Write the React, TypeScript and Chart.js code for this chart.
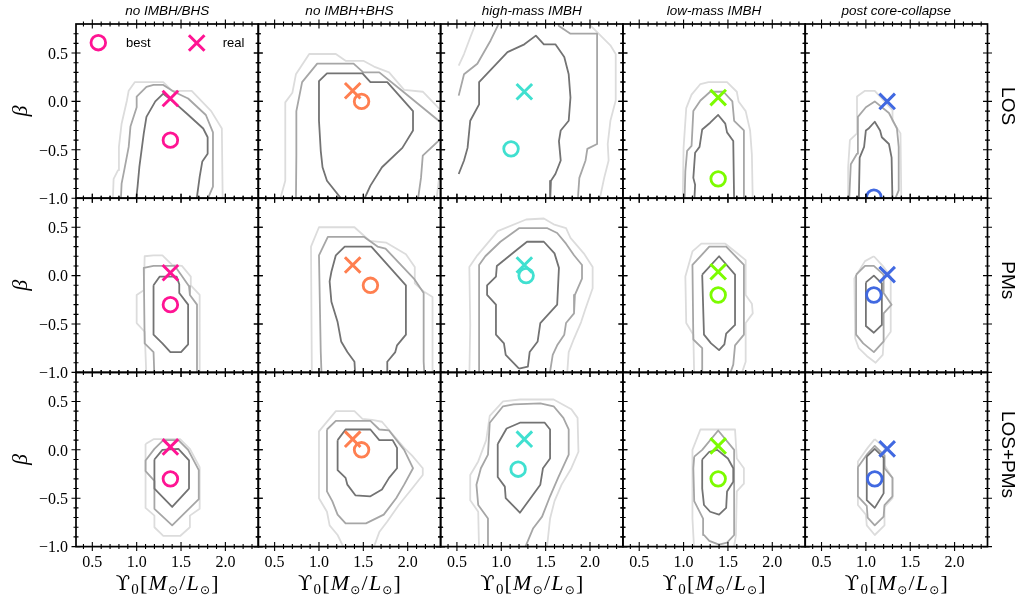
import React, { useEffect, useRef } from "react";
import { Chart, registerables } from "chart.js";

Chart.register(...registerables);

type Pt = [number, number];

// ---------- labels, colours, ticks ----------
const modelTitles = ["no IMBH/BHS", "no IMBH+BHS", "high-mass IMBH", "low-mass IMBH", "post core-collapse"];
const dataTitles = ["LOS", "PMs", "LOS+PMs"];
const modelColors = ["#ff1493", "#ff7f50", "#40e0d0", "#7cfc00", "#4169e1"];
const contourColors = ["#737373", "#a6a6a6", "#dcdcdc"]; // inner, middle, outer
const xMajor = [0.5, 1.0, 1.5, 2.0];
const xMajorLabels = ["0.5", "1.0", "1.5", "2.0"];
const xMinor = [0.4, 0.6, 0.7, 0.8, 0.9, 1.1, 1.2, 1.3, 1.4, 1.6, 1.7, 1.8, 1.9, 2.1, 2.2, 2.3];
const yMajor = [-1.0, -0.5, 0.0, 0.5];
const yMajorLabels = ["\u22121.0", "\u22120.5", "0.0", "0.5"];
const yMinor = [-0.9, -0.8, -0.7, -0.6, -0.4, -0.3, -0.2, -0.1, 0.1, 0.2, 0.3, 0.4, 0.6, 0.7];
const xLimits = [0.316, 2.371];
const yLimits = [-1.0, 0.8];

// ---------- best-fit / real values (Upsilon0, beta) ----------
const bestLOS: Pt[] = [[1.38, -0.4], [1.48, 0.0], [1.11, -0.49], [1.39, -0.8], [1.09, -0.99]];
const realLOS: Pt[] = [[1.38, 0.03], [1.38, 0.11], [1.26, 0.1], [1.39, 0.04], [1.24, 0.0]];
const bestPMs: Pt[] = [[1.38, -0.3], [1.58, -0.1], [1.28, 0.0], [1.39, -0.2], [1.09, -0.2]];
const realPMs: Pt[] = [[1.38, 0.03], [1.38, 0.11], [1.26, 0.11], [1.39, 0.04], [1.24, 0.01]];
const bestBoth: Pt[] = [[1.38, -0.3], [1.48, 0.0], [1.19, -0.2], [1.39, -0.3], [1.1, -0.3]];
const realBoth: Pt[] = [[1.38, 0.03], [1.38, 0.11], [1.26, 0.11], [1.39, 0.04], [1.24, 0.01]];

// ---------- contours: LOS ----------
const los0Light: Pt[] = [[0.73,-1.05],[0.74,-0.8],[0.79,-0.71],[0.8,-0.47],[0.83,-0.23],[0.89,0.01],[0.91,0.11],[0.98,0.2],[1.3,0.2],[1.4,0.11],[1.62,0.11],[1.84,-0.1],[1.96,-0.28],[1.97,-1.05]];
const los0Mid: Pt[] = [[0.82,-1.05],[0.83,-0.85],[0.86,-0.71],[0.91,-0.47],[0.93,-0.26],[1.0,-0.06],[1.0,0.05],[1.11,0.15],[1.19,0.17],[1.3,0.17],[1.42,0.1],[1.58,0.03],[1.78,-0.14],[1.86,-0.32],[1.86,-0.88],[1.78,-1.05]];
const los0Dark: Pt[] = [[0.99,-1.05],[1.01,-0.88],[1.03,-0.68],[1.06,-0.47],[1.08,-0.33],[1.11,-0.16],[1.21,0.0],[1.3,0.08],[1.41,0.0],[1.57,-0.13],[1.75,-0.28],[1.8,-0.37],[1.8,-0.54],[1.74,-0.62],[1.71,-0.78],[1.67,-1.05]];

const los1Light: Pt[] = [[0.55,-1.05],[0.62,-0.82],[0.62,-0.01],[0.7,0.09],[0.74,0.28],[0.89,0.49],[1.19,0.49],[1.3,0.42],[1.5,0.42],[1.62,0.36],[1.79,0.3],[1.96,0.12],[2.17,0.1],[2.35,-0.07],[2.6,-0.3],[2.6,-0.8],[2.35,-0.82],[2.32,-1.05]];
const los1Mid: Pt[] = [[0.74,-1.05],[0.745,-0.55],[0.745,-0.1],[0.81,0.2],[0.98,0.39],[1.39,0.39],[1.5,0.3],[1.68,0.3],[1.95,0.1],[2.35,-0.2],[2.6,-0.3],[2.39,-0.37],[2.17,-0.56],[2.15,-0.79],[2.11,-1.05]];
const los1Dark: Pt[] = [[1.29,-1.05],[1.09,-0.82],[1.04,-0.68],[1.02,-0.51],[1.0,-0.2],[1.0,0.21],[1.09,0.29],[1.49,0.29],[1.58,0.2],[1.77,0.2],[2.06,-0.1],[2.06,-0.3],[1.94,-0.48],[1.71,-0.68],[1.58,-0.87],[1.49,-1.05]];

const los2Light: Pt[] = [[0.52,0.37],[0.58,0.49],[0.65,0.66],[0.71,0.8],[0.75,0.95],[1.95,0.95],[2.01,0.78],[2.23,0.58],[2.29,0.49],[2.29,0.01],[2.23,-0.2],[2.2,-0.44],[2.21,-0.61],[2.16,-0.79],[2.1,-1.05]];
const los2Mid: Pt[] = [[0.52,0.06],[0.58,0.28],[0.73,0.39],[0.88,0.63],[0.96,0.78],[1.0,0.95],[1.6,0.95],[1.65,0.78],[1.78,0.7],[2.08,0.7],[2.08,-0.44],[1.97,-0.49],[1.95,-0.61],[1.88,-0.79],[1.86,-1.05]];
const los2Dark: Pt[] = [[0.52,-0.75],[0.58,-0.61],[0.62,-0.48],[0.65,-0.2],[0.75,-0.03],[0.75,0.2],[1.07,0.51],[1.26,0.59],[1.39,0.68],[1.48,0.59],[1.61,0.59],[1.71,0.46],[1.76,0.28],[1.78,0.04],[1.76,-0.2],[1.67,-0.3],[1.65,-0.41],[1.67,-0.61],[1.61,-0.75],[1.56,-0.82],[1.55,-1.05]];

const los3Light: Pt[] = [[0.99,-1.05],[1.0,-0.48],[1.03,-0.07],[1.09,0.07],[1.19,0.18],[1.28,0.2],[1.49,0.2],[1.6,0.1],[1.62,0.0],[1.7,-0.1],[1.75,-0.3],[1.77,-0.55],[1.78,-1.05]];
const los3Mid: Pt[] = [[1.01,-1.05],[1.02,-0.72],[1.04,-0.51],[1.09,-0.46],[1.11,-0.1],[1.19,0.01],[1.3,0.1],[1.45,0.1],[1.55,0.0],[1.57,-0.2],[1.68,-0.3],[1.68,-1.05]];
const los3Dark: Pt[] = [[1.12,-1.05],[1.13,-0.86],[1.11,-0.79],[1.13,-0.53],[1.18,-0.47],[1.21,-0.29],[1.3,-0.22],[1.39,-0.14],[1.47,-0.23],[1.49,-0.32],[1.56,-0.41],[1.57,-1.05]];

const los4Light: Pt[] = [[0.8,-1.05],[0.8,-0.68],[0.82,-0.4],[0.9,-0.33],[0.9,0.05],[0.99,0.11],[1.1,0.11],[1.16,0.05],[1.3,-0.09],[1.3,-0.2],[1.39,-0.33],[1.4,-1.05]];
const los4Mid: Pt[] = [[0.81,-1.05],[0.83,-0.65],[0.9,-0.54],[0.91,-0.16],[1.0,-0.06],[1.1,0.0],[1.26,-0.12],[1.35,-0.28],[1.37,-0.47],[1.37,-0.92],[1.31,-1.05]];
const los4Dark: Pt[] = [[0.92,-1.05],[0.93,-0.58],[0.98,-0.47],[1.0,-0.3],[1.03,-0.28],[1.1,-0.21],[1.16,-0.3],[1.18,-0.37],[1.26,-0.44],[1.29,-0.58],[1.3,-1.05]];

// ---------- contours: PMs ----------
const pm0Light: Pt[] = [[1.11,-1.05],[1.09,-0.58],[1.0,-0.49],[1.0,-0.2],[1.08,-0.15],[1.09,0.2],[1.19,0.21],[1.29,0.21],[1.4,0.11],[1.51,0.1],[1.61,-0.01],[1.61,-0.1],[1.71,-0.2],[1.71,-1.05]];
const pm0Mid: Pt[] = [[1.2,-1.05],[1.19,-0.79],[1.09,-0.7],[1.08,0.08],[1.19,0.1],[1.43,0.1],[1.5,0.01],[1.59,-0.11],[1.6,-0.2],[1.68,-0.3],[1.68,-1.05]];
const pm0Dark: Pt[] = [[1.19,-0.1],[1.26,-0.01],[1.45,-0.01],[1.48,-0.09],[1.48,-0.18],[1.58,-0.3],[1.58,-0.71],[1.5,-0.79],[1.38,-0.79],[1.29,-0.7],[1.19,-0.61],[1.19,-0.1]];

const pm1Light: Pt[] = [[0.92,-1.05],[0.91,0.3],[1.0,0.5],[1.4,0.5],[1.57,0.36],[1.76,0.34],[1.98,0.22],[2.08,0.09],[2.08,-0.08],[2.19,-0.17],[2.28,-0.22],[2.28,-1.05]];
const pm1Mid: Pt[] = [[1.03,-1.05],[1.02,-0.79],[1.0,0.21],[1.1,0.4],[1.51,0.4],[1.66,0.3],[1.75,0.28],[2.07,-0.03],[2.18,-0.18],[2.18,-0.89],[2.19,-1.05]];
const pm1Dark: Pt[] = [[1.41,-1.05],[1.4,-0.89],[1.32,-0.79],[1.25,-0.68],[1.21,-0.48],[1.14,-0.27],[1.12,-0.06],[1.14,0.04],[1.19,0.21],[1.29,0.3],[1.59,0.3],[1.98,-0.1],[1.98,-0.61],[1.88,-0.72],[1.86,-0.79],[1.77,-0.89],[1.77,-1.05]];

const pm2Light: Pt[] = [[0.64,-1.05],[0.65,-0.51],[0.64,0.09],[0.73,0.21],[0.96,0.46],[1.28,0.58],[1.48,0.59],[1.59,0.53],[1.73,0.49],[1.78,0.39],[1.93,0.23],[2.03,0.09],[2.03,-0.13],[1.95,-0.34],[1.9,-0.48],[1.82,-0.65],[1.76,-0.79],[1.74,-1.05]];
const pm2Mid: Pt[] = [[0.75,-1.05],[0.75,0.11],[0.82,0.2],[0.99,0.35],[1.2,0.49],[1.52,0.49],[1.63,0.44],[1.73,0.33],[1.82,0.21],[1.91,0.11],[1.91,-0.03],[1.83,-0.2],[1.82,-0.39],[1.73,-0.49],[1.71,-0.61],[1.63,-0.72],[1.58,-0.82],[1.54,-1.05]];
const pm2Dark: Pt[] = [[1.2,-0.96],[1.05,-0.82],[1.03,-0.7],[0.94,-0.61],[0.94,-0.3],[0.84,-0.2],[0.84,-0.1],[0.94,-0.01],[0.95,0.1],[1.18,0.27],[1.29,0.35],[1.48,0.35],[1.6,0.23],[1.65,0.08],[1.63,-0.3],[1.44,-0.49],[1.41,-0.68],[1.32,-0.79],[1.3,-0.94],[1.2,-0.96]];

const pm3Light: Pt[] = [[1.12,-1.05],[1.11,-0.61],[1.03,-0.49],[1.02,-0.01],[1.1,0.25],[1.2,0.33],[1.47,0.33],[1.58,0.25],[1.7,0.16],[1.7,-0.2],[1.77,-0.29],[1.78,-0.39],[1.7,-0.49],[1.7,-0.89],[1.64,-1.05]];
const pm3Mid: Pt[] = [[1.21,-1.05],[1.21,-0.75],[1.11,-0.66],[1.1,0.11],[1.2,0.21],[1.29,0.3],[1.48,0.3],[1.68,0.11],[1.68,-0.61],[1.58,-0.72],[1.56,-0.92],[1.51,-1.05]];
const pm3Dark: Pt[] = [[1.21,0.01],[1.4,0.2],[1.58,0.01],[1.58,-0.51],[1.48,-0.6],[1.46,-0.71],[1.4,-0.77],[1.31,-0.7],[1.23,-0.61],[1.21,0.01]];

const pm4Light: Pt[] = [[1.09,0.2],[1.2,0.09],[1.28,-0.01],[1.28,-0.58],[1.2,-0.68],[1.19,-0.82],[1.11,-0.9],[1.01,-0.83],[0.92,-0.75],[0.88,-0.65],[0.87,-0.03],[0.99,0.15],[1.09,0.2]];
const pm4Mid: Pt[] = [[0.89,0.01],[0.99,0.1],[1.09,0.1],[1.2,0.01],[1.2,-0.18],[1.29,-0.3],[1.2,-0.39],[1.2,-0.68],[1.09,-0.79],[0.97,-0.7],[0.89,-0.61],[0.89,0.01]];
const pm4Dark: Pt[] = [[1.0,-0.07],[1.09,0.0],[1.18,-0.08],[1.18,-0.51],[1.09,-0.59],[1.0,-0.52],[1.0,-0.07]];

// ---------- contours: LOS+PMs ----------
const lp0Light: Pt[] = [[1.1,0.06],[1.19,0.11],[1.49,0.11],[1.6,0.01],[1.71,-0.18],[1.71,-0.61],[1.6,-0.68],[1.6,-0.8],[1.49,-0.89],[1.3,-0.89],[1.2,-0.8],[1.2,-0.68],[1.1,-0.6],[1.1,0.06]];
const lp0Mid: Pt[] = [[1.1,-0.11],[1.1,-0.22],[1.2,-0.32],[1.2,-0.61],[1.4,-0.78],[1.7,-0.51],[1.7,-0.21],[1.58,0.0],[1.47,0.1],[1.3,0.1],[1.2,0.01],[1.1,-0.11]];
const lp0Dark: Pt[] = [[1.2,-0.1],[1.29,0.0],[1.47,0.01],[1.59,-0.11],[1.59,-0.4],[1.4,-0.59],[1.2,-0.4],[1.2,-0.1]];

const lp1Light: Pt[] = [[1.3,-1.05],[1.21,-0.88],[1.12,-0.78],[1.09,-0.64],[1.0,-0.5],[1.0,0.19],[1.19,0.4],[1.4,0.4],[1.49,0.32],[1.6,0.31],[1.71,0.29],[1.96,0.02],[2.05,-0.06],[2.17,-0.19],[2.17,-0.26],[2.05,-0.4],[1.9,-0.57],[1.77,-0.74],[1.68,-0.85],[1.6,-1.05]];
const lp1Mid: Pt[] = [[1.09,0.21],[1.19,0.3],[1.58,0.3],[1.68,0.21],[1.79,0.2],[1.96,0.0],[2.06,-0.19],[1.96,-0.36],[1.87,-0.5],[1.73,-0.67],[1.53,-0.76],[1.3,-0.76],[1.21,-0.67],[1.15,-0.53],[1.09,-0.43],[1.09,0.21]];
const lp1Dark: Pt[] = [[1.21,0.1],[1.3,0.21],[1.58,0.21],[1.68,0.1],[1.83,0.1],[1.88,0.02],[1.88,-0.19],[1.79,-0.29],[1.71,-0.41],[1.58,-0.48],[1.41,-0.47],[1.32,-0.36],[1.3,-0.29],[1.21,-0.21],[1.21,0.1]];

const lp2Light: Pt[] = [[0.75,-1.05],[0.74,-0.64],[0.65,-0.52],[0.65,-0.26],[0.74,-0.12],[0.83,0.1],[0.87,0.35],[1.02,0.5],[1.21,0.52],[1.59,0.52],[1.79,0.42],[1.86,0.33],[1.87,-0.02],[1.79,-0.19],[1.68,-0.36],[1.6,-0.53],[1.55,-0.71],[1.53,-0.88],[1.51,-1.05]];
const lp2Mid: Pt[] = [[0.85,-1.05],[0.85,-0.71],[0.74,-0.57],[0.72,-0.36],[0.77,-0.19],[0.85,-0.05],[0.87,0.28],[1.02,0.45],[1.14,0.47],[1.44,0.48],[1.59,0.45],[1.7,0.33],[1.76,0.21],[1.76,-0.05],[1.64,-0.29],[1.55,-0.48],[1.46,-0.69],[1.36,-0.81],[1.25,-1.05]];
const lp2Dark: Pt[] = [[0.96,0.06],[1.06,0.22],[1.21,0.28],[1.49,0.28],[1.55,0.21],[1.55,-0.09],[1.47,-0.19],[1.44,-0.36],[1.21,-0.65],[1.05,-0.5],[1.04,-0.38],[0.96,-0.28],[0.96,0.06]];

const lp3Light: Pt[] = [[1.12,-1.05],[1.1,-0.71],[1.1,0.0],[1.19,0.21],[1.58,0.21],[1.6,-0.09],[1.68,-0.19],[1.68,-0.35],[1.6,-0.43],[1.59,-0.88],[1.56,-1.05]];
const lp3Mid: Pt[] = [[1.12,-0.07],[1.21,0.0],[1.39,0.2],[1.57,0.0],[1.57,-0.88],[1.49,-0.96],[1.4,-0.98],[1.29,-0.94],[1.23,-0.88],[1.22,-0.71],[1.12,-0.53],[1.11,-0.19],[1.12,-0.07]];
const lp3Dark: Pt[] = [[1.21,-0.1],[1.29,-0.02],[1.38,0.0],[1.5,-0.09],[1.56,-0.19],[1.56,-0.33],[1.49,-0.43],[1.48,-0.6],[1.4,-0.67],[1.3,-0.64],[1.23,-0.57],[1.21,-0.4],[1.21,-0.1]];

const lp4Light: Pt[] = [[1.1,0.11],[1.21,0.02],[1.21,-0.16],[1.3,-0.29],[1.3,-0.5],[1.21,-0.59],[1.21,-0.78],[1.1,-0.88],[1.01,-0.78],[1.0,-0.67],[0.91,-0.57],[0.91,-0.12],[1.02,0.02],[1.1,0.11]];
const lp4Mid: Pt[] = [[0.91,-0.18],[1.01,-0.05],[1.1,0.04],[1.21,-0.06],[1.21,-0.19],[1.3,-0.29],[1.3,-0.48],[1.21,-0.57],[1.2,-0.69],[1.1,-0.78],[1.02,-0.7],[1.01,-0.58],[0.91,-0.48],[0.91,-0.18]];
const lp4Dark: Pt[] = [[1.01,-0.07],[1.1,0.01],[1.2,-0.08],[1.2,-0.45],[1.1,-0.6],[1.01,-0.52],[1.01,-0.07]];

// ---------- tables built from the arrays above ----------
const contourTable: Pt[][][][] = [
  [[los0Dark, los0Mid, los0Light], [los1Dark, los1Mid, los1Light], [los2Dark, los2Mid, los2Light], [los3Dark, los3Mid, los3Light], [los4Dark, los4Mid, los4Light]],
  [[pm0Dark, pm0Mid, pm0Light], [pm1Dark, pm1Mid, pm1Light], [pm2Dark, pm2Mid, pm2Light], [pm3Dark, pm3Mid, pm3Light], [pm4Dark, pm4Mid, pm4Light]],
  [[lp0Dark, lp0Mid, lp0Light], [lp1Dark, lp1Mid, lp1Light], [lp2Dark, lp2Mid, lp2Light], [lp3Dark, lp3Mid, lp3Light], [lp4Dark, lp4Mid, lp4Light]],
];
const bestTable: Pt[][] = [bestLOS, bestPMs, bestBoth];
const realTable: Pt[][] = [realLOS, realPMs, realBoth];

// ---------- layout ----------
const PAGE_W = 1020;
const PAGE_H = 602;
const GRID_LEFT = 76;
const GRID_TOP = 24;
const PANEL_W = 182.3;
const PANEL_H = 174.2;

const SERIF = '"Liberation Serif", "DejaVu Serif", serif';
const SANS = '"Liberation Sans", "DejaVu Sans", sans-serif';

function drawCircleMarker(ctx: CanvasRenderingContext2D, x: number, y: number, color: string) {
  ctx.beginPath();
  ctx.arc(x, y, 7.3, 0, Math.PI * 2);
  ctx.strokeStyle = color;
  ctx.lineWidth = 2.8;
  ctx.stroke();
}

function drawCrossMarker(ctx: CanvasRenderingContext2D, x: number, y: number, color: string) {
  const h = 7.8;
  ctx.beginPath();
  ctx.moveTo(x - h, y - h);
  ctx.lineTo(x + h, y + h);
  ctx.moveTo(x + h, y - h);
  ctx.lineTo(x - h, y + h);
  ctx.strokeStyle = color;
  ctx.lineWidth = 3;
  ctx.stroke();
}

function drawXLabel(ctx: CanvasRenderingContext2D, cx: number, baseline: number) {
  const parts = [
    { t: "\u03D2", f: `21px "DejaVu Serif", serif`, dy: 0 },
    { t: "0", f: `15px ${SERIF}`, dy: 4 },
    { t: "[", f: `22px ${SERIF}`, dy: 0 },
    { t: "M", f: `italic 22px ${SERIF}`, dy: 0 },
    { t: "\u2299", f: `12px "DejaVu Sans", sans-serif`, dy: 4 },
    { t: "/", f: `22px ${SERIF}`, dy: 0 },
    { t: "L", f: `italic 22px ${SERIF}`, dy: 0 },
    { t: "\u2299", f: `12px "DejaVu Sans", sans-serif`, dy: 4 },
    { t: "]", f: `22px ${SERIF}`, dy: 0 },
  ];
  const gap = 1.2;
  let total = 0;
  const widths = parts.map((p) => {
    ctx.font = p.f;
    const w = ctx.measureText(p.t).width;
    total += w;
    return w;
  });
  total += gap * (parts.length - 1);
  let x = cx - total / 2;
  ctx.textAlign = "left";
  ctx.textBaseline = "alphabetic";
  ctx.fillStyle = "#000";
  parts.forEach((p, i) => {
    ctx.font = p.f;
    ctx.fillText(p.t, x, baseline + p.dy);
    x += widths[i] + gap;
  });
}

function makeDecor(row: number, col: number) {
  return {
    id: "panelDecor",
    afterDraw(chart: any) {
      const ctx: CanvasRenderingContext2D = chart.ctx;
      const a = chart.chartArea;
      const xs = chart.scales.x;
      const ys = chart.scales.y;
      ctx.save();
      // frame
      ctx.strokeStyle = "#000";
      ctx.lineWidth = 1.7;
      ctx.strokeRect(a.left, a.top, a.right - a.left, a.bottom - a.top);
      // ticks (in and out, all four sides)
      ctx.lineWidth = 1.1;
      const xTicks = (vals: number[], len: number) => {
        vals.forEach((v) => {
          const px = xs.getPixelForValue(v);
          ctx.beginPath();
          ctx.moveTo(px, a.bottom - len);
          ctx.lineTo(px, a.bottom + len);
          ctx.moveTo(px, a.top - len);
          ctx.lineTo(px, a.top + len);
          ctx.stroke();
        });
      };
      const yTicks = (vals: number[], len: number) => {
        vals.forEach((v) => {
          const py = ys.getPixelForValue(v);
          ctx.beginPath();
          ctx.moveTo(a.left - len, py);
          ctx.lineTo(a.left + len, py);
          ctx.moveTo(a.right - len, py);
          ctx.lineTo(a.right + len, py);
          ctx.stroke();
        });
      };
      xTicks(xMajor, 4.5);
      xTicks(xMinor, 2.5);
      yTicks(yMajor, 4.5);
      yTicks(yMinor, 2.5);

      ctx.fillStyle = "#000";
      // y tick labels + beta label
      if (col === 0) {
        ctx.font = `16px ${SERIF}`;
        ctx.textAlign = "right";
        ctx.textBaseline = "middle";
        yMajor.forEach((v, i) => {
          ctx.fillText(yMajorLabels[i], a.left - 8, ys.getPixelForValue(v) + 1.5);
        });
        ctx.save();
        ctx.translate(a.left - 55, (a.top + a.bottom) / 2);
        ctx.rotate(-Math.PI / 2);
        ctx.font = `italic 22px ${SERIF}`;
        ctx.textAlign = "center";
        ctx.textBaseline = "middle";
        ctx.fillText("\u03B2", 0, 0);
        ctx.restore();
      }
      // x tick labels + x label
      if (row === 2) {
        ctx.font = `16px ${SERIF}`;
        ctx.textAlign = "center";
        ctx.textBaseline = "alphabetic";
        xMajor.forEach((v, i) => {
          ctx.fillText(xMajorLabels[i], xs.getPixelForValue(v), a.bottom + 20);
        });
        drawXLabel(ctx, (a.left + a.right) / 2, a.bottom + 43);
      }
      // column titles
      if (row === 0) {
        ctx.font = `italic 13.5px ${SANS}`;
        ctx.textAlign = "center";
        ctx.textBaseline = "middle";
        ctx.fillText(modelTitles[col], (a.left + a.right) / 2, a.top - 12.5);
      }
      // row labels
      if (col === 4) {
        ctx.save();
        ctx.translate(a.right + 19.5, (a.top + a.bottom) / 2 - 5);
        ctx.rotate(Math.PI / 2);
        ctx.font = `19px ${SANS}`;
        ctx.textAlign = "center";
        ctx.textBaseline = "middle";
        ctx.fillText(dataTitles[row], 0, 0);
        ctx.restore();
      }
      // legend
      if (row === 0 && col === 0) {
        const c = modelColors[0];
        drawCircleMarker(ctx, a.left + 22.3, a.top + 18.7, c);
        drawCrossMarker(ctx, a.left + 120.7, a.top + 19, c);
        ctx.fillStyle = "#000";
        ctx.font = `13px ${SANS}`;
        ctx.textAlign = "left";
        ctx.textBaseline = "alphabetic";
        ctx.fillText("best", a.left + 50, a.top + 23.3);
        ctx.fillText("real", a.left + 146.7, a.top + 23.3);
      }
      ctx.restore();
    },
  };
}

function Panel({ row, col }: { row: number; col: number }) {
  const ref = useRef<HTMLCanvasElement>(null);
  useEffect(() => {
    const canvas = ref.current;
    if (!canvas) return;
    const left = GRID_LEFT + col * PANEL_W;
    const top = GRID_TOP + row * PANEL_H;
    const color = modelColors[col];
    const best = bestTable[row][col];
    const real = realTable[row][col];
    const contourSets = contourTable[row][col].map((pts, i) => ({
      data: pts.map(([x, y]) => ({ x, y })),
      showLine: true,
      borderColor: contourColors[i],
      backgroundColor: contourColors[i],
      borderWidth: 1.8,
      borderJoinStyle: "round" as const,
      pointRadius: 0,
      pointHoverRadius: 0,
      fill: false,
      tension: 0,
      clip: 0,
    }));
    const datasets: any[] = [
      {
        data: [{ x: real[0], y: real[1] }],
        pointStyle: "crossRot",
        pointRadius: 11,
        pointHoverRadius: 11,
        borderWidth: 3,
        borderColor: color,
        backgroundColor: color,
        clip: 0,
      },
      {
        data: [{ x: best[0], y: best[1] }],
        pointStyle: "circle",
        pointRadius: 7.3,
        pointHoverRadius: 7.3,
        borderWidth: 2.8,
        borderColor: color,
        backgroundColor: "rgba(0,0,0,0)",
        clip: 0,
      },
      ...contourSets,
    ];
    const chart = new Chart(canvas, {
      type: "scatter",
      data: { datasets },
      options: {
        responsive: false,
        animation: false,
        events: [],
        layout: {
          padding: {
            left: left,
            top: top,
            right: PAGE_W - left - PANEL_W,
            bottom: PAGE_H - top - PANEL_H,
          },
        },
        scales: {
          x: { type: "linear", min: xLimits[0], max: xLimits[1], display: false },
          y: { type: "linear", min: yLimits[0], max: yLimits[1], display: false },
        },
        plugins: {
          legend: { display: false },
          tooltip: { enabled: false },
          title: { display: false },
        },
      },
      plugins: [makeDecor(row, col)],
    });
    return () => chart.destroy();
  }, [row, col]);
  return (
    <canvas
      ref={ref}
      width={PAGE_W}
      height={PAGE_H}
      style={{ position: "absolute", left: 0, top: 0, width: PAGE_W, height: PAGE_H }}
    />
  );
}

export default function App() {
  const cells: { row: number; col: number }[] = [];
  for (let r = 0; r < 3; r++) for (let c = 0; c < 5; c++) cells.push({ row: r, col: c });
  return (
    <div
      style={{
        position: "absolute",
        left: 0,
        top: 0,
        width: PAGE_W,
        height: PAGE_H,
        background: "#ffffff",
        overflow: "hidden",
      }}
    >
      {cells.map((c) => (
        <Panel key={`${c.row}-${c.col}`} row={c.row} col={c.col} />
      ))}
    </div>
  );
}
